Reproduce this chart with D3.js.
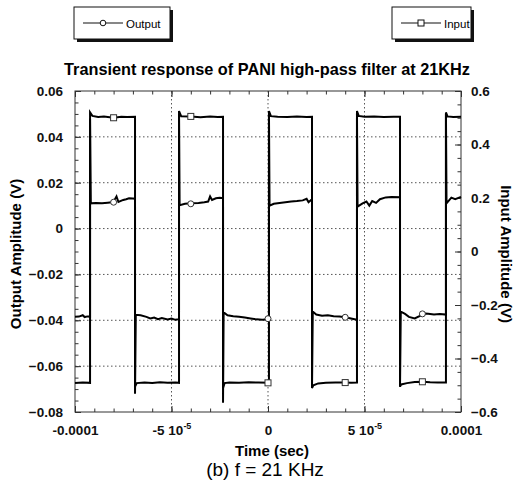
<!DOCTYPE html>
<html>
<head>
<meta charset="utf-8">
<script src="https://cdn.jsdelivr.net/npm/d3@7"></script>
<style>
    body { margin: 0; background: #fff; }
    text { font-family: "Liberation Sans", Arial, Helvetica, sans-serif; }
</style>
</head>
<body>
<script>
(function () {

    //time in units of 1e-5 s, amplitude in V (output on left axis)
    var outputData = [
        [-10.0, -0.0385], [-9.8, -0.0384], [-9.6, -0.0378], [-9.5, -0.0386], [-9.35, -0.0383], [-9.22, -0.0384],
        [-9.22, 0.0480], [-9.18, 0.0110],
        [-8.9, 0.0112], [-8.6, 0.0110], [-8.3, 0.0113], [-8.1, 0.0115], [-8.0, 0.0117], [-7.85, 0.0140], [-7.75, 0.0116],
        [-7.5, 0.0125], [-7.35, 0.0128], [-7.2, 0.0132], [-7.0, 0.0131], [-6.89, 0.0130],
        [-6.89, -0.0720], [-6.85, -0.0376],
        [-6.6, -0.0378], [-6.3, -0.0385], [-6.1, -0.0392], [-5.9, -0.0388], [-5.7, -0.0395], [-5.5, -0.0390],
        [-5.2, -0.0396], [-5.0, -0.0392], [-4.8, -0.0398], [-4.61, -0.0395],
        [-4.61, 0.0500], [-4.58, 0.0102],
        [-4.3, 0.0108], [-4.0, 0.0110], [-3.6, 0.0112], [-3.3, 0.0115], [-3.1, 0.0118], [-3.0, 0.0140], [-2.9, 0.0125],
        [-2.7, 0.0132], [-2.5, 0.0134], [-2.33, 0.0133],
        [-2.33, -0.0760], [-2.30, -0.0365],
        [-2.1, -0.0378], [-1.8, -0.0382], [-1.5, -0.0385], [-1.2, -0.0388], [-0.9, -0.0392], [-0.6, -0.0396],
        [-0.3, -0.0398], [0.05, -0.0395],
        [0.05, 0.0500], [0.08, 0.0100],
        [0.3, 0.0108], [0.6, 0.0112], [0.9, 0.0115], [1.2, 0.0118], [1.5, 0.0120], [1.8, 0.0123], [2.0, 0.0130],
        [2.1, 0.0115], [2.28, 0.0128],
        [2.28, -0.0695], [2.32, -0.0362],
        [2.5, -0.0375], [2.8, -0.0380], [3.1, -0.0378], [3.4, -0.0382], [3.7, -0.0384], [4.0, -0.0387],
        [4.3, -0.0392], [4.61, -0.0398],
        [4.61, 0.0500], [4.64, 0.0096],
        [4.9, 0.0110], [5.1, 0.0118], [5.25, 0.0100], [5.4, 0.0120], [5.6, 0.0112], [5.8, 0.0128], [6.1, 0.0136],
        [6.4, 0.0138], [6.84, 0.0137],
        [6.84, -0.0690], [6.88, -0.0362],
        [7.1, -0.0372], [7.3, -0.0385], [7.6, -0.0392], [7.9, -0.0380], [8.0, -0.0370], [8.3, -0.0372],
        [8.6, -0.0375], [8.9, -0.0373], [9.22, -0.0375],
        [9.22, 0.0500], [9.25, 0.0110],
        [9.5, 0.0135], [9.7, 0.0128], [10.0, 0.0138]
    ];

    //input on right axis
    var inputData = [
        [-10.0, -0.492], [-9.6, -0.490], [-9.22, -0.491],
        [-9.22, 0.520], [-9.1, 0.507], [-8.8, 0.503], [-8.5, 0.505], [-8.0, 0.500], [-7.6, 0.504], [-7.3, 0.503], [-6.89, 0.504],
        [-6.89, -0.505], [-6.8, -0.492], [-6.4, -0.490], [-6.0, -0.492], [-5.6, -0.489], [-5.2, -0.491], [-4.8, -0.490], [-4.61, -0.491],
        [-4.61, 0.525], [-4.5, 0.506], [-4.0, 0.505], [-3.5, 0.502], [-3.0, 0.505], [-2.6, 0.503], [-2.33, 0.504],
        [-2.33, -0.510], [-2.25, -0.492], [-2.0, -0.490], [-1.5, -0.491], [-1.0, -0.489], [-0.5, -0.490], [0.05, -0.491],
        [0.05, 0.525], [0.15, 0.506], [0.5, 0.504], [1.0, 0.503], [1.5, 0.505], [2.0, 0.503], [2.28, 0.504],
        [2.28, -0.510], [2.35, -0.500], [2.6, -0.493], [3.0, -0.491], [3.5, -0.490], [4.0, -0.490], [4.3, -0.491], [4.61, -0.490],
        [4.61, 0.525], [4.7, 0.507], [5.0, 0.504], [5.5, 0.505], [6.0, 0.503], [6.5, 0.504], [6.84, 0.504],
        [6.84, -0.505], [6.9, -0.497], [7.2, -0.492], [7.6, -0.488], [8.0, -0.487], [8.4, -0.489], [8.8, -0.490], [9.22, -0.490],
        [9.22, 0.520], [9.3, 0.505], [9.6, 0.503], [10.0, 0.504]
    ];

    //marker samples
    var markerTimes = [-8, -4, 0, 4, 8];
    var outputMarkers = [0.0115, 0.0108, -0.0393, -0.0387, -0.0372];
    var inputMarkers = [0.500, 0.505, -0.491, -0.490, -0.487];

    //tick values and labels
    var xTicks = [-10, -5, 0, 5, 10];
    var xTickLabels = [["-0.0001", ""], ["-5 10", "-5"], ["0", ""], ["5 10", "-5"], ["0.0001", ""]];
    var yLeftTicks = [-0.08, -0.06, -0.04, -0.02, 0, 0.02, 0.04, 0.06];
    var yRightTicks = [-0.6, -0.4, -0.2, 0, 0.2, 0.4, 0.6];

    var width = 515,
        height = 486;
    var plotLeft = 75,
        plotRight = 461,
        plotTop = 91,
        plotBottom = 412;

    var svg = d3.select("body")
        .append("svg")
        .attr("width", width)
        .attr("height", height);

    var x = d3.scaleLinear().domain([-10, 10]).range([plotLeft, plotRight]);
    var yL = d3.scaleLinear().domain([-0.08, 0.06]).range([plotBottom, plotTop]);
    var yR = d3.scaleLinear().domain([-0.6, 0.6]).range([plotBottom, plotTop]);

    //dotted grid
    svg.append("g")
        .selectAll("line")
        .data(yLeftTicks.slice(1, -1))
        .enter()
        .append("line")
        .attr("x1", plotLeft).attr("x2", plotRight)
        .attr("y1", function (d) { return yL(d); })
        .attr("y2", function (d) { return yL(d); })
        .attr("stroke", "#555")
        .attr("stroke-dasharray", "1.5,2.5");

    svg.append("g")
        .selectAll("line")
        .data(xTicks.slice(1, -1))
        .enter()
        .append("line")
        .attr("y1", plotTop).attr("y2", plotBottom)
        .attr("x1", function (d) { return x(d); })
        .attr("x2", function (d) { return x(d); })
        .attr("stroke", "#555")
        .attr("stroke-dasharray", "1.5,2.5");

    //minor ticks (inward)
    function minorAxis(axis, vals, transform) {
        var g = svg.append("g")
            .attr("transform", transform)
            .call(axis.tickValues(vals).tickSize(-3.5).tickFormat(""));
        g.select(".domain").remove();
        g.selectAll("line").attr("stroke", "#333");
    }
    minorAxis(d3.axisBottom(x), d3.range(-10, 10.01, 1), "translate(0," + plotBottom + ")");
    minorAxis(d3.axisTop(x), d3.range(-10, 10.01, 1), "translate(0," + plotTop + ")");
    minorAxis(d3.axisLeft(yL), d3.range(-0.08, 0.0601, 0.005), "translate(" + plotLeft + ",0)");
    minorAxis(d3.axisRight(yR), d3.range(-0.6, 0.601, 0.05), "translate(" + plotRight + ",0)");

    //major axes
    var bottomAxis = svg.append("g")
        .attr("transform", "translate(0," + plotBottom + ")")
        .call(d3.axisBottom(x).tickValues(xTicks).tickSizeInner(-6).tickSizeOuter(0).tickPadding(13).tickFormat(""));
    bottomAxis.selectAll(".tick text").each(function (d, i) {
        var t = d3.select(this);
        t.append("tspan").text(xTickLabels[i][0]);
        if (xTickLabels[i][1]) {
            t.append("tspan").attr("font-size", 9).attr("dy", "-0.6em").text(xTickLabels[i][1]);
        }
    });

    svg.append("g")
        .attr("transform", "translate(0," + plotTop + ")")
        .call(d3.axisTop(x).tickValues(xTicks).tickSizeInner(-6).tickSizeOuter(0).tickFormat(""));

    svg.append("g")
        .attr("transform", "translate(" + plotLeft + ",0)")
        .call(d3.axisLeft(yL).tickValues(yLeftTicks).tickSizeInner(-6).tickSizeOuter(0).tickPadding(12)
            .tickFormat(function (d) { return d === 0 ? "0" : d3.format(".2f")(d); }));

    svg.append("g")
        .attr("transform", "translate(" + plotRight + ",0)")
        .call(d3.axisRight(yR).tickValues(yRightTicks).tickSizeInner(-6).tickSizeOuter(0).tickPadding(10)
            .tickFormat(function (d) { return d === 0 ? "0" : d3.format(".1f")(d); }));

    svg.selectAll(".tick line").attr("stroke", "#333");
    svg.selectAll(".domain").remove();
    svg.selectAll(".tick text")
        .attr("font-family", "'Liberation Sans', Arial, sans-serif")
        .attr("font-size", 13.5)
        .attr("font-weight", "bold")
        .attr("fill", "#111");

    //plot frame
    svg.append("rect")
        .attr("x", plotLeft).attr("y", plotTop)
        .attr("width", plotRight - plotLeft)
        .attr("height", plotBottom - plotTop)
        .attr("fill", "none")
        .attr("stroke", "#333")
        .attr("stroke-width", 1);

    //series
    var lineOut = d3.line()
        .x(function (d) { return x(d[0]); })
        .y(function (d) { return yL(d[1]); });
    var lineIn = d3.line()
        .x(function (d) { return x(d[0]); })
        .y(function (d) { return yR(d[1]); });

    svg.append("path")
        .datum(inputData)
        .attr("d", lineIn)
        .attr("fill", "none")
        .attr("stroke", "#000")
        .attr("stroke-width", 2);

    svg.append("path")
        .datum(outputData)
        .attr("d", lineOut)
        .attr("fill", "none")
        .attr("stroke", "#000")
        .attr("stroke-width", 2);

    svg.append("g")
        .selectAll("rect")
        .data(markerTimes)
        .enter()
        .append("rect")
        .attr("x", function (d) { return x(d) - 3; })
        .attr("y", function (d, i) { return yR(inputMarkers[i]) - 3; })
        .attr("width", 6).attr("height", 6)
        .attr("fill", "#fff")
        .attr("stroke", "#333");

    svg.append("g")
        .selectAll("circle")
        .data(markerTimes)
        .enter()
        .append("circle")
        .attr("cx", function (d) { return x(d); })
        .attr("cy", function (d, i) { return yL(outputMarkers[i]); })
        .attr("r", 3)
        .attr("fill", "#fff")
        .attr("stroke", "#333");

    //titles
    svg.append("text")
        .attr("x", 267).attr("y", 75)
        .attr("text-anchor", "middle")
        .attr("font-size", 16.3)
        .attr("font-weight", "bold")
        .text("Transient response of PANI high-pass filter at 21KHz");

    svg.append("text")
        .attr("transform", "translate(21,254) rotate(-90)")
        .attr("text-anchor", "middle")
        .attr("font-size", 15)
        .attr("font-weight", "bold")
        .text("Output Amplitude (V)");

    svg.append("text")
        .attr("transform", "translate(501,254) rotate(90)")
        .attr("text-anchor", "middle")
        .attr("font-size", 15)
        .attr("font-weight", "bold")
        .text("Input Amplitude (V)");

    svg.append("text")
        .attr("x", 272).attr("y", 456)
        .attr("text-anchor", "middle")
        .attr("font-size", 15)
        .attr("font-weight", "bold")
        .text("Time (sec)");

    svg.append("text")
        .attr("x", 265).attr("y", 476)
        .attr("text-anchor", "middle")
        .attr("font-size", 19)
        .text("(b) f = 21 KHz");

    //legend boxes with shadow
    function legendBox(bx, bw, label, marker) {
        var g = svg.append("g");
        g.append("rect")
            .attr("x", bx + 3).attr("y", 10)
            .attr("width", bw).attr("height", 32)
            .attr("fill", "#111");
        g.append("rect")
            .attr("x", bx).attr("y", 7)
            .attr("width", bw).attr("height", 32)
            .attr("fill", "#fff")
            .attr("stroke", "#111");
        g.append("line")
            .attr("x1", bx + 9).attr("x2", bx + 49)
            .attr("y1", 23).attr("y2", 23)
            .attr("stroke", "#111")
            .attr("stroke-width", 1.2);
        if (marker === "circle") {
            g.append("circle")
                .attr("cx", bx + 29).attr("cy", 23).attr("r", 2.8)
                .attr("fill", "#fff").attr("stroke", "#111");
        } else {
            g.append("rect")
                .attr("x", bx + 26).attr("y", 20).attr("width", 6).attr("height", 6)
                .attr("fill", "#fff").attr("stroke", "#111");
        }
        g.append("text")
            .attr("x", bx + 52).attr("y", 27.5)
            .attr("font-size", 11.5)
            .text(label);
    }
    legendBox(74, 96, "Output", "circle");
    legendBox(392, 79, "Input", "square");

})();
</script>
</body>
</html>
